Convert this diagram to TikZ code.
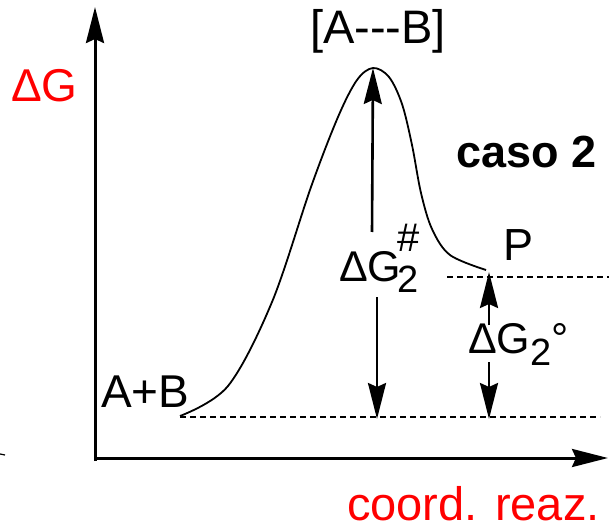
\documentclass[tikz,border=0pt]{standalone}
\usepackage{fontspec}
\setmainfont{Liberation Sans}
\usetikzlibrary{arrows.meta}
\definecolor{lblred}{RGB}{255,0,0}
\newcommand{\fs}[1]{\fontsize{#1}{#1}\selectfont}
\begin{document}
\begin{tikzpicture}[x=1pt,y=-1pt,
  axis/.style={line width=3pt,-{Stealth[length=36pt,width=18pt,inset=4pt]}},
  dgarrow/.style={line width=2.6pt,-{Stealth[length=36pt,width=18pt,inset=4pt]}},
  level/.style={line width=1.6pt,dash pattern=on 6pt off 4pt},
  curve/.style={line width=1.8pt},
  lbl/.style={inner sep=0pt,anchor=base west}]
\useasboundingbox (0,0) rectangle (609,526);
% axes
\coordinate (O) at (95,458);
\coordinate (ytop) at (95,7);
\coordinate (xend) at (608,458);
\draw[axis] (95,461) -- (ytop);
\draw[axis] (O) -- (xend);
% small mark at left edge
\coordinate (m1) at (0,454);
\coordinate (m2) at (5,455);
\draw[line width=1.2pt] (m1) -- (m2);
% energy levels
\coordinate (R) at (180,417);
\coordinate (Rend) at (600,417);
\coordinate (Pl) at (447,277);
\coordinate (Pr) at (609,277);
\draw[level] (R) -- (Rend);
\draw[level] (Pl) -- (Pr);
% reaction profile
\coordinate (TS) at (373,68);
\coordinate (Pp) at (486,270);
\draw[curve] plot[smooth,tension=0.55] coordinates {(180,416) (228,386) (272,302) (311,187) (338,117) (357,80) (373,68) (389,77) (402,104) (412,145) (421,193) (432,229) (450,255) (486,270)};
% activation energy arrow
\coordinate (a1) at (372,232);
\coordinate (a2) at (377,297);
\coordinate (a3) at (377,419);
\draw[dgarrow] (a1) -- (TS);
\draw[dgarrow] (a2) -- (a3);
% reaction free energy arrow
\coordinate (b1) at (489,325);
\coordinate (b2) at (489,272);
\coordinate (b3) at (489,362);
\coordinate (b4) at (489,419);
\draw[dgarrow] (b1) -- (b2);
\draw[dgarrow] (b3) -- (b4);
% labels
\node[lbl,anchor=base] (ts) at (378,44) {\fs{47}[A-{}-{}-B]};
\node[lbl,text=lblred] (dG) at (11,102) {\fs{46}ΔG};
\node[lbl] (caso) at (456,168) {\fs{45}\bfseries caso 2};
\node[lbl] (P) at (503,260) {\fs{45}P};
\node[lbl] (AB) at (101,407) {\fs{46}A+B};
\node[lbl,text=lblred] (coord) at (347,520) {\fs{47}coord. reaz.};
\node[lbl] (dg2) at (339,281) {\fs{43}ΔG\kern-4pt\rlap{\raisebox{-11pt}{\fs{38}2}}\raisebox{30pt}{\fs{40}\#}};
\node[lbl] (dg0) at (468,353) {\fs{43}ΔG\raisebox{-12pt}{\fs{38}2}°};
\end{tikzpicture}
\end{document}
